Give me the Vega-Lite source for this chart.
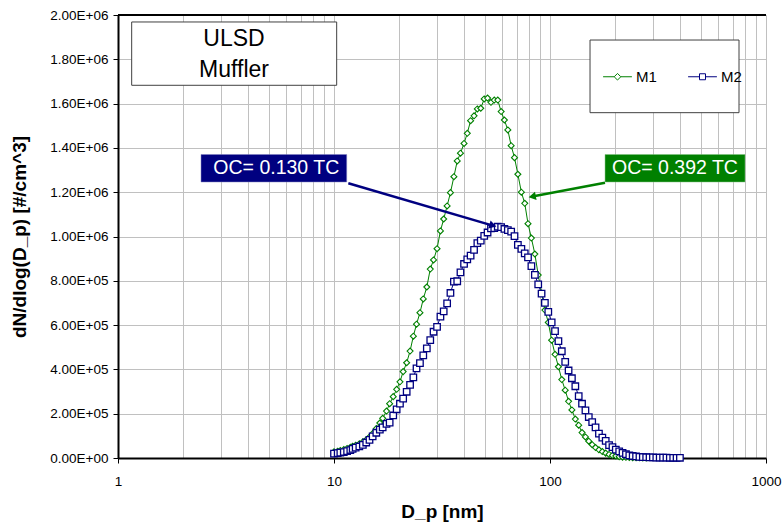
{
  "$schema": "https://vega.github.io/schema/vega-lite/v6.json",
  "width": 648,
  "height": 443,
  "autosize": {"type": "none"},
  "padding": {"left": 118, "top": 15, "right": 18, "bottom": 67},
  "background": "white",
  "config": {"view": {"stroke": null}, "font": "Liberation Sans"},
  "datasets": {
    "sd": [
      {"s":"M1","d":10.0,"n":28000},{"s":"M1","d":10.4,"n":30000},{"s":"M1","d":10.7,"n":34000},{"s":"M1","d":11.1,"n":38000},
      {"s":"M1","d":11.5,"n":43000},{"s":"M1","d":11.9,"n":48000},{"s":"M1","d":12.2,"n":53000},{"s":"M1","d":12.6,"n":58000},
      {"s":"M1","d":13.1,"n":64000},{"s":"M1","d":13.6,"n":73000},{"s":"M1","d":14.1,"n":82000},{"s":"M1","d":14.6,"n":95000},
      {"s":"M1","d":15.1,"n":110000},{"s":"M1","d":15.7,"n":133000},{"s":"M1","d":16.3,"n":158000},{"s":"M1","d":16.8,"n":179000},
      {"s":"M1","d":17.5,"n":212000},{"s":"M1","d":18.1,"n":245000},{"s":"M1","d":18.8,"n":277000},{"s":"M1","d":19.5,"n":310000},
      {"s":"M1","d":20.2,"n":344000},{"s":"M1","d":20.9,"n":390000},{"s":"M1","d":21.7,"n":430000},{"s":"M1","d":22.5,"n":483000},
      {"s":"M1","d":23.3,"n":550000},{"s":"M1","d":24.1,"n":604000},{"s":"M1","d":25.0,"n":656000},{"s":"M1","d":25.9,"n":718000},
      {"s":"M1","d":26.9,"n":772000},{"s":"M1","d":27.9,"n":853000},{"s":"M1","d":28.9,"n":894000},{"s":"M1","d":30.0,"n":945000},
      {"s":"M1","d":31.1,"n":1025000},{"s":"M1","d":32.2,"n":1079000},{"s":"M1","d":33.4,"n":1138000},{"s":"M1","d":34.6,"n":1198000},
      {"s":"M1","d":35.9,"n":1270000},{"s":"M1","d":37.2,"n":1341000},{"s":"M1","d":38.5,"n":1376000},{"s":"M1","d":40.0,"n":1420000},
      {"s":"M1","d":41.4,"n":1466000},{"s":"M1","d":42.9,"n":1523000},{"s":"M1","d":44.5,"n":1545000},{"s":"M1","d":46.1,"n":1576000},
      {"s":"M1","d":47.8,"n":1579000},{"s":"M1","d":49.6,"n":1621000},{"s":"M1","d":51.4,"n":1625000},{"s":"M1","d":53.3,"n":1606000},
      {"s":"M1","d":55.2,"n":1616000},{"s":"M1","d":57.3,"n":1616000},{"s":"M1","d":59.4,"n":1564000},{"s":"M1","d":61.5,"n":1526000},
      {"s":"M1","d":63.8,"n":1481000},{"s":"M1","d":66.1,"n":1410000},{"s":"M1","d":68.5,"n":1356000},{"s":"M1","d":71.0,"n":1281000},
      {"s":"M1","d":73.7,"n":1200000},{"s":"M1","d":76.4,"n":1150000},{"s":"M1","d":79.1,"n":1058000},{"s":"M1","d":82.0,"n":993000},
      {"s":"M1","d":85.1,"n":921000},{"s":"M1","d":88.2,"n":826000},{"s":"M1","d":91.4,"n":745000},{"s":"M1","d":94.7,"n":668000},
      {"s":"M1","d":98.2,"n":612000},{"s":"M1","d":101.8,"n":532000},{"s":"M1","d":105.5,"n":468000},{"s":"M1","d":109.4,"n":412000},
      {"s":"M1","d":113.4,"n":354000},{"s":"M1","d":117.6,"n":306000},{"s":"M1","d":121.9,"n":256000},{"s":"M1","d":126.3,"n":217000},
      {"s":"M1","d":131.0,"n":176000},{"s":"M1","d":135.8,"n":148000},{"s":"M1","d":140.7,"n":115000},{"s":"M1","d":145.9,"n":95000},
      {"s":"M1","d":151.2,"n":76000},{"s":"M1","d":156.8,"n":60000},{"s":"M1","d":162.5,"n":47000},{"s":"M1","d":168.5,"n":37000},
      {"s":"M1","d":174.7,"n":29000},{"s":"M1","d":181.1,"n":22000},{"s":"M1","d":187.7,"n":16000},{"s":"M1","d":194.6,"n":12000},
      {"s":"M1","d":201.7,"n":9000},{"s":"M1","d":209.1,"n":6000},{"s":"M1","d":216.7,"n":4000},{"s":"M1","d":224.7,"n":3000},
      {"s":"M1","d":232.9,"n":2000},{"s":"M1","d":241.4,"n":1500},{"s":"M1","d":250.3,"n":1000},{"s":"M1","d":259.5,"n":800},
      {"s":"M1","d":269.0,"n":600},{"s":"M1","d":278.8,"n":500},
      {"s":"M2","d":10.0,"n":20000},{"s":"M2","d":10.4,"n":22000},{"s":"M2","d":10.7,"n":24000},{"s":"M2","d":11.1,"n":27000},
      {"s":"M2","d":11.5,"n":31000},{"s":"M2","d":11.9,"n":36000},{"s":"M2","d":12.2,"n":41000},{"s":"M2","d":12.6,"n":47000},
      {"s":"M2","d":13.1,"n":52000},{"s":"M2","d":13.6,"n":59000},{"s":"M2","d":14.1,"n":70000},{"s":"M2","d":14.6,"n":82000},
      {"s":"M2","d":15.1,"n":98000},{"s":"M2","d":15.7,"n":114000},{"s":"M2","d":16.3,"n":128000},{"s":"M2","d":16.8,"n":138000},
      {"s":"M2","d":17.5,"n":154000},{"s":"M2","d":18.1,"n":160000},{"s":"M2","d":18.8,"n":192000},{"s":"M2","d":19.5,"n":220000},
      {"s":"M2","d":20.2,"n":245000},{"s":"M2","d":20.9,"n":268000},{"s":"M2","d":21.7,"n":299000},{"s":"M2","d":22.5,"n":330000},
      {"s":"M2","d":23.3,"n":364000},{"s":"M2","d":24.1,"n":405000},{"s":"M2","d":25.0,"n":428000},{"s":"M2","d":25.9,"n":463000},
      {"s":"M2","d":26.9,"n":495000},{"s":"M2","d":27.9,"n":532000},{"s":"M2","d":28.9,"n":570000},{"s":"M2","d":30.0,"n":592000},
      {"s":"M2","d":31.1,"n":638000},{"s":"M2","d":32.2,"n":662000},{"s":"M2","d":33.4,"n":698000},{"s":"M2","d":34.6,"n":745000},
      {"s":"M2","d":35.9,"n":796000},{"s":"M2","d":37.2,"n":798000},{"s":"M2","d":38.5,"n":838000},{"s":"M2","d":40.0,"n":876000},
      {"s":"M2","d":41.4,"n":897000},{"s":"M2","d":42.9,"n":914000},{"s":"M2","d":44.5,"n":940000},{"s":"M2","d":46.1,"n":970000},
      {"s":"M2","d":47.8,"n":981000},{"s":"M2","d":49.6,"n":1003000},{"s":"M2","d":51.4,"n":1018000},{"s":"M2","d":53.3,"n":1037000},
      {"s":"M2","d":55.2,"n":1038000},{"s":"M2","d":57.3,"n":1044000},{"s":"M2","d":59.4,"n":1042000},{"s":"M2","d":61.5,"n":1034000},
      {"s":"M2","d":63.8,"n":1029000},{"s":"M2","d":66.1,"n":1022000},{"s":"M2","d":68.5,"n":1002000},{"s":"M2","d":71.0,"n":962000},
      {"s":"M2","d":73.7,"n":944000},{"s":"M2","d":76.4,"n":924000},{"s":"M2","d":79.1,"n":906000},{"s":"M2","d":82.0,"n":866000},
      {"s":"M2","d":85.1,"n":827000},{"s":"M2","d":88.2,"n":784000},{"s":"M2","d":91.4,"n":742000},{"s":"M2","d":94.7,"n":700000},
      {"s":"M2","d":98.2,"n":660000},{"s":"M2","d":101.8,"n":612000},{"s":"M2","d":105.5,"n":573000},{"s":"M2","d":109.4,"n":528000},
      {"s":"M2","d":113.4,"n":482000},{"s":"M2","d":117.6,"n":434000},{"s":"M2","d":121.9,"n":395000},{"s":"M2","d":126.3,"n":360000},
      {"s":"M2","d":131.0,"n":324000},{"s":"M2","d":135.8,"n":279000},{"s":"M2","d":140.7,"n":245000},{"s":"M2","d":145.9,"n":215000},
      {"s":"M2","d":151.2,"n":185000},{"s":"M2","d":156.8,"n":162000},{"s":"M2","d":162.5,"n":138000},{"s":"M2","d":168.5,"n":110000},
      {"s":"M2","d":174.7,"n":92000},{"s":"M2","d":181.1,"n":77000},{"s":"M2","d":187.7,"n":58000},{"s":"M2","d":194.6,"n":49000},
      {"s":"M2","d":201.7,"n":38000},{"s":"M2","d":209.1,"n":30000},{"s":"M2","d":216.7,"n":23000},{"s":"M2","d":224.7,"n":17000},
      {"s":"M2","d":232.9,"n":12000},{"s":"M2","d":241.4,"n":9000},{"s":"M2","d":250.3,"n":7000},{"s":"M2","d":259.5,"n":5000},
      {"s":"M2","d":269.0,"n":4000},{"s":"M2","d":278.8,"n":3500},{"s":"M2","d":289.0,"n":3000},{"s":"M2","d":299.6,"n":2500},
      {"s":"M2","d":310.6,"n":2000},{"s":"M2","d":322.0,"n":2000},{"s":"M2","d":333.8,"n":1500},{"s":"M2","d":346.0,"n":1500},
      {"s":"M2","d":358.7,"n":1000},{"s":"M2","d":371.8,"n":1000},{"s":"M2","d":385.4,"n":1000},{"s":"M2","d":399.5,"n":1000}
    ]
  },
  "layer": [
    {
      "data": {"name": "sd"},
      "mark": {"type": "line", "strokeWidth": 1},
      "encoding": {
        "x": {
          "field": "d", "type": "quantitative",
          "scale": {"type": "log", "domain": [1, 1000], "nice": false},
          "axis": {
            "values": [1,2,3,4,5,6,7,8,9,10,20,30,40,50,60,70,80,90,100,200,300,400,500,600,700,800,900,1000],
            "grid": true, "gridColor": "#c0c0c0", "gridWidth": 1,
            "domainColor": "black", "domainWidth": 2,
            "tickColor": "black", "tickWidth": 1, "tickSize": 5,
            "tickOpacity": {"condition": {"test": "indexof([1,10,100,1000], datum.value) >= 0", "value": 1}, "value": 0},
            "labelExpr": "indexof([1,10,100,1000], datum.value) >= 0 ? format(datum.value, 'd') : ''",
            "labelOverlap": false, "labelFlush": false,
            "labelFont": "Liberation Sans", "labelFontSize": 13.5, "labelColor": "black", "labelPadding": 11,
            "title": "D_p [nm]", "titleFont": "Liberation Sans", "titleFontSize": 19, "titleFontWeight": "bold",
            "titleColor": "black", "titleX": 324, "titleY": 59, "titleBaseline": "alphabetic"
          }
        },
        "y": {
          "field": "n", "type": "quantitative",
          "scale": {"domain": [0, 2000000], "nice": false},
          "axis": {
            "values": [0,200000,400000,600000,800000,1000000,1200000,1400000,1600000,1800000,2000000],
            "grid": true, "gridColor": "#c0c0c0", "gridWidth": 1,
            "domainColor": "black", "domainWidth": 2,
            "tickColor": "black", "tickWidth": 1, "tickSize": 5,
            "labelExpr": "datum.value == 0 ? '0.00E+00' : (datum.value >= 1000000 ? format(datum.value / 1000000, '.2f') + 'E+06' : format(datum.value / 100000, '.2f') + 'E+05')",
            "labelFont": "Liberation Sans", "labelFontSize": 13.5, "labelColor": "black", "labelPadding": 5,
            "title": "dN/dlog(D_p) [#/cm^3]", "titleFont": "Liberation Sans", "titleFontSize": 19, "titleFontWeight": "bold",
            "titleColor": "black", "titleX": -89, "titleY": 221.5
          }
        },
        "stroke": {
          "field": "s", "type": "nominal",
          "scale": {"domain": ["M1", "M2"], "range": ["#008000", "#000080"]},
          "legend": {
            "title": null, "orient": "none", "legendX": 492, "legendY": 54, "direction": "horizontal", "columns": 2,
            "labelFont": "Liberation Sans", "labelFontSize": 15, "labelColor": "black",
            "symbolSize": 144, "symbolFillColor": "white", "symbolStrokeWidth": 1, "symbolOpacity": 1,
            "labelOffset": 11, "columnPadding": 29, "padding": 0
          }
        }
      }
    },
    {
      "data": {"name": "sd"},
      "transform": [{"filter": "datum.s === 'none'"}],
      "mark": {"type": "point", "fill": "white", "filled": false, "size": 36, "strokeWidth": 1, "opacity": 1},
      "encoding": {
        "x": {"field": "d", "type": "quantitative"},
        "y": {"field": "n", "type": "quantitative"},
        "stroke": {
          "field": "s", "type": "nominal",
          "legend": {
            "title": null, "orient": "none", "legendX": 492, "legendY": 54, "direction": "horizontal", "columns": 2,
            "labelFont": "Liberation Sans", "labelFontSize": 15, "labelColor": "black",
            "symbolSize": 144, "symbolFillColor": "white", "symbolStrokeWidth": 1, "symbolOpacity": 1,
            "labelOffset": 11, "columnPadding": 29, "padding": 0
          }
        },
        "shape": {
          "field": "s", "type": "nominal",
          "scale": {"domain": ["M1", "M2"], "range": ["M-2.4,0H-0.55M0.55,0H2.4M0,-0.55L0.55,0L0,0.55L-0.55,0Z", "M-2.4,0H-0.5M0.5,0H2.4M-0.5,-0.5H0.5V0.5H-0.5Z"]},
          "legend": {
            "title": null, "orient": "none", "legendX": 492, "legendY": 54, "direction": "horizontal", "columns": 2,
            "labelFont": "Liberation Sans", "labelFontSize": 15, "labelColor": "black",
            "symbolSize": 144, "symbolFillColor": "white", "symbolStrokeWidth": 1, "symbolOpacity": 1,
            "labelOffset": 11, "columnPadding": 29, "padding": 0
          }
        }
      }
    },
    {
      "data": {"name": "sd"},
      "transform": [{"filter": "datum.s === 'M1'"}],
      "mark": {"type": "point", "shape": "diamond", "fill": "white", "stroke": "#008000", "size": 36, "strokeWidth": 1.1, "opacity": 1, "fillOpacity": 1},
      "encoding": {
        "x": {"field": "d", "type": "quantitative"},
        "y": {"field": "n", "type": "quantitative"}
      }
    },
    {
      "data": {"name": "sd"},
      "transform": [{"filter": "datum.s === 'M2'"}],
      "mark": {"type": "point", "shape": "square", "fill": "white", "stroke": "#000080", "size": 42, "strokeWidth": 1.3, "opacity": 1, "fillOpacity": 1},
      "encoding": {
        "x": {"field": "d", "type": "quantitative"},
        "y": {"field": "n", "type": "quantitative"}
      }
    },
    {
      "data": {"values": [{"k": 1}]},
      "mark": {"type": "rule", "color": "black", "strokeWidth": 2},
      "encoding": {
        "x": {"datum": 1, "type": "quantitative"},
        "x2": {"datum": 1000},
        "y": {"datum": 2000000, "type": "quantitative"}
      }
    },
    {
      "data": {"values": [{"k": 1}]},
      "mark": {"type": "rect", "fill": "white", "stroke": "#404040", "strokeWidth": 1},
      "encoding": {
        "x": {"datum": 1.157, "type": "quantitative"},
        "x2": {"datum": 10.29},
        "y": {"datum": 1968500, "type": "quantitative"},
        "y2": {"datum": 1682700}
      }
    },
    {
      "data": {"values": [{"t": "ULSD"}]},
      "mark": {"type": "text", "font": "Liberation Sans", "fontSize": 23, "align": "center", "baseline": "alphabetic", "color": "black"},
      "encoding": {
        "x": {"datum": 3.444, "type": "quantitative"},
        "y": {"datum": 1861500, "type": "quantitative"},
        "text": {"field": "t"}
      }
    },
    {
      "data": {"values": [{"t": "Muffler"}]},
      "mark": {"type": "text", "font": "Liberation Sans", "fontSize": 23, "align": "center", "baseline": "alphabetic", "color": "black"},
      "encoding": {
        "x": {"datum": 3.444, "type": "quantitative"},
        "y": {"datum": 1718900, "type": "quantitative"},
        "text": {"field": "t"}
      }
    },
    {
      "data": {"values": [{"k": 1}]},
      "mark": {"type": "rect", "fill": "white", "stroke": "#404040", "strokeWidth": 1},
      "encoding": {
        "x": {"datum": 153.2, "type": "quantitative"},
        "x2": {"datum": 749.9},
        "y": {"datum": 1887000, "type": "quantitative"},
        "y2": {"datum": 1559000}
      }
    },
    {
      "data": {"values": [{"k": 1}]},
      "mark": {"type": "rule", "color": "#000080", "strokeWidth": 2.5},
      "encoding": {
        "x": {"datum": 11.65, "type": "quantitative"},
        "x2": {"datum": 54.4},
        "y": {"datum": 1240300, "type": "quantitative"},
        "y2": {"datum": 1049300}
      }
    },
    {
      "data": {"values": [{"k": 1}]},
      "mark": {"type": "point", "shape": "triangle-right", "filled": true, "color": "#000080", "size": 70, "angle": 16.3, "opacity": 1},
      "encoding": {
        "x": {"datum": 54.4, "type": "quantitative"},
        "y": {"datum": 1049300, "type": "quantitative"}
      }
    },
    {
      "data": {"values": [{"k": 1}]},
      "mark": {"type": "rule", "color": "#008000", "strokeWidth": 2.5},
      "encoding": {
        "x": {"datum": 179.8, "type": "quantitative"},
        "x2": {"datum": 82.73},
        "y": {"datum": 1243000, "type": "quantitative"},
        "y2": {"datum": 1180400}
      }
    },
    {
      "data": {"values": [{"k": 1}]},
      "mark": {"type": "point", "shape": "triangle-left", "filled": true, "color": "#008000", "size": 70, "angle": -10.8, "opacity": 1},
      "encoding": {
        "x": {"datum": 82.73, "type": "quantitative"},
        "y": {"datum": 1180400, "type": "quantitative"}
      }
    },
    {
      "data": {"values": [{"k": 1}]},
      "mark": {"type": "rect", "fill": "#000080", "stroke": "#8080c0", "strokeWidth": 0.5},
      "encoding": {
        "x": {"datum": 2.423, "type": "quantitative"},
        "x2": {"datum": 11.45},
        "y": {"datum": 1370300, "type": "quantitative"},
        "y2": {"datum": 1246100}
      }
    },
    {
      "data": {"values": [{"t": "OC= 0.130 TC"}]},
      "mark": {"type": "text", "font": "Liberation Sans", "fontSize": 19.5, "align": "center", "baseline": "alphabetic", "color": "white"},
      "encoding": {
        "x": {"datum": 5.405, "type": "quantitative"},
        "y": {"datum": 1280900, "type": "quantitative"},
        "text": {"field": "t"}
      }
    },
    {
      "data": {"values": [{"k": 1}]},
      "mark": {"type": "rect", "fill": "#008000", "stroke": "#80c080", "strokeWidth": 0.5},
      "encoding": {
        "x": {"datum": 179.8, "type": "quantitative"},
        "x2": {"datum": 799.5},
        "y": {"datum": 1370300, "type": "quantitative"},
        "y2": {"datum": 1246100}
      }
    },
    {
      "data": {"values": [{"t": "OC= 0.392 TC"}]},
      "mark": {"type": "text", "font": "Liberation Sans", "fontSize": 19.5, "align": "center", "baseline": "alphabetic", "color": "white"},
      "encoding": {
        "x": {"datum": 379, "type": "quantitative"},
        "y": {"datum": 1280900, "type": "quantitative"},
        "text": {"field": "t"}
      }
    }
  ]
}
